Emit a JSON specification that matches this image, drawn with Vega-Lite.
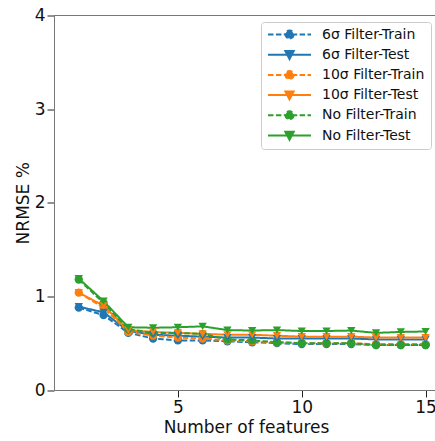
{
  "$schema": "https://vega.github.io/schema/vega-lite/v6.json",
  "autosize": "none",
  "width": 381,
  "height": 374.5,
  "padding": {"left": 54, "top": 15.5, "right": 0, "bottom": 51},
  "background": "white",
  "config": {
    "view": {"stroke": null},
    "font": "DejaVu Sans",
    "axis": {
      "grid": false,
      "domainColor": "#777",
      "domainWidth": 1,
      "tickColor": "#222",
      "tickSize": 7,
      "tickWidth": 1,
      "labelFont": "DejaVu Sans",
      "labelFontSize": 17,
      "labelColor": "#111",
      "titleFont": "DejaVu Sans",
      "titleFontSize": 17,
      "titleFontWeight": "normal",
      "titleColor": "#111"
    }
  },
  "data": {
    "values": [
      {"n":1,"s":"6σ Filter-Train","v":0.88},{"n":2,"s":"6σ Filter-Train","v":0.80},{"n":3,"s":"6σ Filter-Train","v":0.61},{"n":4,"s":"6σ Filter-Train","v":0.55},{"n":5,"s":"6σ Filter-Train","v":0.53},{"n":6,"s":"6σ Filter-Train","v":0.53},{"n":7,"s":"6σ Filter-Train","v":0.52},{"n":8,"s":"6σ Filter-Train","v":0.51},{"n":9,"s":"6σ Filter-Train","v":0.50},{"n":10,"s":"6σ Filter-Train","v":0.49},{"n":11,"s":"6σ Filter-Train","v":0.49},{"n":12,"s":"6σ Filter-Train","v":0.49},{"n":13,"s":"6σ Filter-Train","v":0.48},{"n":14,"s":"6σ Filter-Train","v":0.48},{"n":15,"s":"6σ Filter-Train","v":0.48},
      {"n":1,"s":"6σ Filter-Test","v":0.89},{"n":2,"s":"6σ Filter-Test","v":0.83},{"n":3,"s":"6σ Filter-Test","v":0.63},{"n":4,"s":"6σ Filter-Test","v":0.59},{"n":5,"s":"6σ Filter-Test","v":0.58},{"n":6,"s":"6σ Filter-Test","v":0.57},{"n":7,"s":"6σ Filter-Test","v":0.56},{"n":8,"s":"6σ Filter-Test","v":0.56},{"n":9,"s":"6σ Filter-Test","v":0.55},{"n":10,"s":"6σ Filter-Test","v":0.55},{"n":11,"s":"6σ Filter-Test","v":0.55},{"n":12,"s":"6σ Filter-Test","v":0.55},{"n":13,"s":"6σ Filter-Test","v":0.54},{"n":14,"s":"6σ Filter-Test","v":0.54},{"n":15,"s":"6σ Filter-Test","v":0.54},
      {"n":1,"s":"10σ Filter-Train","v":1.04},{"n":2,"s":"10σ Filter-Train","v":0.88},{"n":3,"s":"10σ Filter-Train","v":0.62},{"n":4,"s":"10σ Filter-Train","v":0.58},{"n":5,"s":"10σ Filter-Train","v":0.56},{"n":6,"s":"10σ Filter-Train","v":0.55},{"n":7,"s":"10σ Filter-Train","v":0.53},{"n":8,"s":"10σ Filter-Train","v":0.52},{"n":9,"s":"10σ Filter-Train","v":0.51},{"n":10,"s":"10σ Filter-Train","v":0.50},{"n":11,"s":"10σ Filter-Train","v":0.50},{"n":12,"s":"10σ Filter-Train","v":0.50},{"n":13,"s":"10σ Filter-Train","v":0.49},{"n":14,"s":"10σ Filter-Train","v":0.49},{"n":15,"s":"10σ Filter-Train","v":0.49},
      {"n":1,"s":"10σ Filter-Test","v":1.04},{"n":2,"s":"10σ Filter-Test","v":0.90},{"n":3,"s":"10σ Filter-Test","v":0.64},{"n":4,"s":"10σ Filter-Test","v":0.62},{"n":5,"s":"10σ Filter-Test","v":0.61},{"n":6,"s":"10σ Filter-Test","v":0.60},{"n":7,"s":"10σ Filter-Test","v":0.59},{"n":8,"s":"10σ Filter-Test","v":0.59},{"n":9,"s":"10σ Filter-Test","v":0.58},{"n":10,"s":"10σ Filter-Test","v":0.57},{"n":11,"s":"10σ Filter-Test","v":0.57},{"n":12,"s":"10σ Filter-Test","v":0.57},{"n":13,"s":"10σ Filter-Test","v":0.56},{"n":14,"s":"10σ Filter-Test","v":0.56},{"n":15,"s":"10σ Filter-Test","v":0.56},
      {"n":1,"s":"No Filter-Train","v":1.18},{"n":2,"s":"No Filter-Train","v":0.93},{"n":3,"s":"No Filter-Train","v":0.65},{"n":4,"s":"No Filter-Train","v":0.61},{"n":5,"s":"No Filter-Train","v":0.61},{"n":6,"s":"No Filter-Train","v":0.60},{"n":7,"s":"No Filter-Train","v":0.54},{"n":8,"s":"No Filter-Train","v":0.53},{"n":9,"s":"No Filter-Train","v":0.51},{"n":10,"s":"No Filter-Train","v":0.50},{"n":11,"s":"No Filter-Train","v":0.50},{"n":12,"s":"No Filter-Train","v":0.50},{"n":13,"s":"No Filter-Train","v":0.48},{"n":14,"s":"No Filter-Train","v":0.48},{"n":15,"s":"No Filter-Train","v":0.48},
      {"n":1,"s":"No Filter-Test","v":1.19},{"n":2,"s":"No Filter-Test","v":0.95},{"n":3,"s":"No Filter-Test","v":0.67},{"n":4,"s":"No Filter-Test","v":0.665},{"n":5,"s":"No Filter-Test","v":0.67},{"n":6,"s":"No Filter-Test","v":0.68},{"n":7,"s":"No Filter-Test","v":0.64},{"n":8,"s":"No Filter-Test","v":0.635},{"n":9,"s":"No Filter-Test","v":0.64},{"n":10,"s":"No Filter-Test","v":0.63},{"n":11,"s":"No Filter-Test","v":0.63},{"n":12,"s":"No Filter-Test","v":0.635},{"n":13,"s":"No Filter-Test","v":0.61},{"n":14,"s":"No Filter-Test","v":0.62},{"n":15,"s":"No Filter-Test","v":0.625}
    ]
  },
  "layer": [
    {
      "mark": {"type": "rule", "color": "#777", "strokeWidth": 1},
      "encoding": {"y": {"datum": 4, "type": "quantitative"}}
    },
    {
      "mark": {"type": "line", "strokeWidth": 2},
      "encoding": {
        "x": {
          "field": "n", "type": "quantitative",
          "scale": {"domain": [0, 15.38], "nice": false, "zero": false},
          "axis": {"values": [5, 10, 15], "title": "Number of features", "labelPadding": 2, "titleY": 42, "titleBaseline": "alphabetic", "titleX": 192}
        },
        "y": {
          "field": "v", "type": "quantitative",
          "scale": {"domain": [0, 4], "nice": false},
          "axis": {"values": [0, 1, 2, 3, 4], "format": "d", "title": "NRMSE %", "labelPadding": 2, "titleX": -26, "titleBaseline": "alphabetic"}
        },
        "color": {
          "field": "s", "type": "nominal",
          "scale": {
            "domain": ["6σ Filter-Train","6σ Filter-Test","10σ Filter-Train","10σ Filter-Test","No Filter-Train","No Filter-Test"],
            "range": ["#1f77b4","#1f77b4","#ff7f0e","#ff7f0e","#2ca02c","#2ca02c"]
          },
          "legend": {
            "title": null,
            "orient": "none",
            "legendX": 207,
            "legendY": 6.5,
            "padding": 6,
            "strokeColor": "#cccccc",
            "fillColor": "white",
            "cornerRadius": 3,
            "labelFont": "DejaVu Sans",
            "labelFontSize": 14,
            "labelColor": "#111",
            "labelOffset": 10,
            "symbolSize": 1849,
            "symbolStrokeWidth": 2,
            "clipHeight": 13,
            "rowPadding": 5.2,
            "encode": {
              "symbols": {
                "update": {
                  "shape": {"signal": "indexof(datum.value,'Train')>=0 ? 'M-1,0H1M0.186,0A0.186,0.186,0,1,1,-0.186,0A0.186,0.186,0,1,1,0.186,0Z' : 'M-1,0H1M-0.193,-0.17L0.193,-0.17L0,0.2Z'"},
                  "fill": {"signal": "indexof(datum.value,'6σ')==0 ? '#1f77b4' : indexof(datum.value,'10σ')==0 ? '#ff7f0e' : '#2ca02c'"},
                  "stroke": {"signal": "indexof(datum.value,'6σ')==0 ? '#1f77b4' : indexof(datum.value,'10σ')==0 ? '#ff7f0e' : '#2ca02c'"},
                  "opacity": {"value": 1},
                  "fillOpacity": {"value": 1}
                }
              }
            }
          }
        },
        "strokeDash": {
          "field": "s", "type": "nominal",
          "scale": {
            "domain": ["6σ Filter-Train","6σ Filter-Test","10σ Filter-Train","10σ Filter-Test","No Filter-Train","No Filter-Test"],
            "range": [[5.5,2.4],[1,0],[5.5,2.4],[1,0],[5.5,2.4],[1,0]]
          }
        }
      }
    },
    {
      "transform": [{"filter": "indexof(datum.s,'Train')>=0"}],
      "mark": {"type": "point", "filled": true, "opacity": 1, "size": 69, "shape": "circle"},
      "encoding": {
        "x": {"field": "n", "type": "quantitative"},
        "y": {"field": "v", "type": "quantitative"},
        "color": {"field": "s", "type": "nominal", "legend": null}
      }
    },
    {
      "transform": [{"filter": "indexof(datum.s,'Test')>=0"}],
      "mark": {"type": "point", "filled": true, "opacity": 1, "size": 69, "shape": "triangle-down"},
      "encoding": {
        "x": {"field": "n", "type": "quantitative"},
        "y": {"field": "v", "type": "quantitative"},
        "color": {"field": "s", "type": "nominal", "legend": null}
      }
    }
  ]
}
